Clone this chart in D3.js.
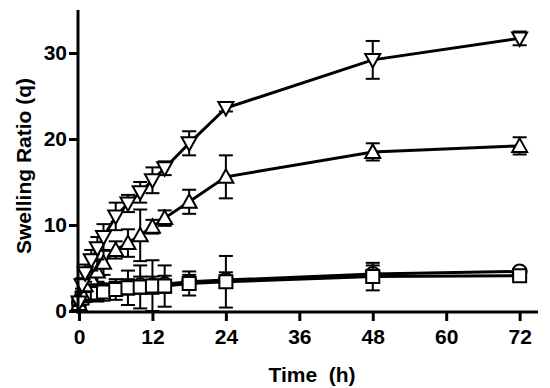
<!DOCTYPE html>
<html>
<head>
<meta charset="utf-8">
<script src="https://cdn.jsdelivr.net/npm/d3@7"></script>
<style>
  body { margin: 0; background: #fff; }
  svg text { font-family: "Liberation Sans", Arial, sans-serif; font-weight: bold; fill: #000; }
</style>
</head>
<body>
<div id="chart"></div>
<script>
// time points (h)
const times = [0, 0.5, 1, 2, 3, 4, 6, 8, 10, 12, 14, 18, 24, 48, 72];

// series values (mean, error)
const downTri = [1.0, 3.0, 4.4, 5.9, 7.3, 8.6, 11.0, 12.5, 13.8, 15.2, 16.6, 19.5, 23.6, 29.2, 31.7];
const downTriErr = [0.4, 0.8, 1.0, 1.2, 1.3, 1.5, 1.6, 1.0, 1.2, 1.5, 0.8, 1.4, 0.4, 2.2, 0.8];
const upTri = [0.8, 2.0, 3.0, 3.8, 4.6, 5.6, 7.1, 7.9, 8.8, 9.8, 10.8, 12.7, 15.6, 18.5, 19.2];
const upTriErr = [0.3, 0.6, 0.8, 1.0, 1.2, 1.4, 1.0, 1.6, 3.0, 0.8, 0.9, 1.4, 2.5, 1.0, 1.0];
const squares = [0.9, 1.5, 1.8, 2.0, 2.1, 2.2, 2.5, 2.7, 2.8, 2.9, 2.9, 3.2, 3.4, 4.0, 4.1];
const squaresErr = [0.3, 0.5, 0.6, 0.8, 1.0, 1.0, 1.2, 2.0, 2.5, 3.0, 2.4, 1.4, 3.0, 1.6, 0.4];
const circles = [1.0, 1.6, 2.0, 2.2, 2.3, 2.4, 2.6, 2.8, 3.0, 3.0, 3.1, 3.4, 3.6, 4.3, 4.6];
const circlesErr = [0.3, 0.4, 0.5, 0.6, 0.6, 0.7, 0.8, 0.9, 1.0, 1.0, 1.0, 0.8, 0.9, 1.0, 0.3];

const xTicks = [0, 12, 24, 36, 48, 60, 72];
const yTicks = [0, 10, 20, 30];

const W = 550, H = 388;
const x = d3.scaleLinear().domain([0, 75]).range([79, 538]);
const y = d3.scaleLinear().domain([0, 35]).range([311, 10]);

const svg = d3.select("#chart").append("svg").attr("width", W).attr("height", H);

// marker shapes
const shapes = {
  down: (cx, cy) => `M${cx - 7.5},${cy - 6}L${cx + 7.5},${cy - 6}L${cx},${cy + 7.5}Z`,
  up: (cx, cy) => `M${cx - 7.5},${cy + 6}L${cx + 7.5},${cy + 6}L${cx},${cy - 7.5}Z`,
  square: (cx, cy) => `M${cx - 6.5},${cy - 6.5}h13v13h-13Z`,
  circle: (cx, cy) => `M${cx - 7},${cy}a7,7 0 1,0 14,0a7,7 0 1,0 -14,0Z`
};

const series = [
  {vals: circles, err: circlesErr, shape: "circle"},
  {vals: squares, err: squaresErr, shape: "square"},
  {vals: upTri, err: upTriErr, shape: "up"},
  {vals: downTri, err: downTriErr, shape: "down"}
];

const line = d3.line().x(d => x(d.t)).y(d => y(d.v));

series.forEach(s => {
  const pts = times.map((t, i) => ({t: t, v: s.vals[i], e: s.err[i]}));
  const g = svg.append("g");
  g.append("path").datum(pts).attr("d", line)
    .attr("fill", "none").attr("stroke", "#000").attr("stroke-width", 3);
  // error bars
  pts.forEach(p => {
    const cx = x(p.t), y1 = y(p.v + p.e), y2 = y(Math.max(0, p.v - p.e));
    g.append("line").attr("x1", cx).attr("x2", cx).attr("y1", y1).attr("y2", y2)
      .attr("stroke", "#000").attr("stroke-width", 2);
    [y1, y2].forEach(yy => g.append("line").attr("x1", cx - 7).attr("x2", cx + 7)
      .attr("y1", yy).attr("y2", yy).attr("stroke", "#000").attr("stroke-width", 2));
  });
  g.selectAll(".m").data(pts).enter().append("path")
    .attr("d", p => shapes[s.shape](x(p.t), y(p.v)))
    .attr("fill", "#fff").attr("stroke", "#000").attr("stroke-width", 2);
});

// axes
const xAxis = svg.append("g").attr("transform", "translate(0,312)")
  .call(d3.axisBottom(x).tickValues(xTicks).tickSize(9).tickPadding(8).tickSizeOuter(0));
const yAxis = svg.append("g").attr("transform", "translate(78,0)")
  .call(d3.axisLeft(y).tickValues(yTicks).tickSize(9).tickPadding(2).tickSizeOuter(0));
[xAxis, yAxis].forEach(a => {
  a.select(".domain").attr("stroke-width", 3);
  a.selectAll(".tick line").attr("stroke-width", 3);
  a.selectAll(".tick text").style("font-size", "21px");
});
xAxis.select(".domain").attr("d", `M${78 - 1.5},0H538`);
yAxis.select(".domain").attr("d", `M0,${312 + 1.5}V10`);

svg.append("text").attr("x", 312).attr("y", 382).attr("text-anchor", "middle")
  .style("font-size", "21px").attr("xml:space", "preserve").text("Time  (h)");
svg.append("text").attr("transform", "translate(31,166) rotate(-90)").attr("text-anchor", "middle")
  .style("font-size", "21px").text("Swelling Ratio (q)");
</script>
</body>
</html>
